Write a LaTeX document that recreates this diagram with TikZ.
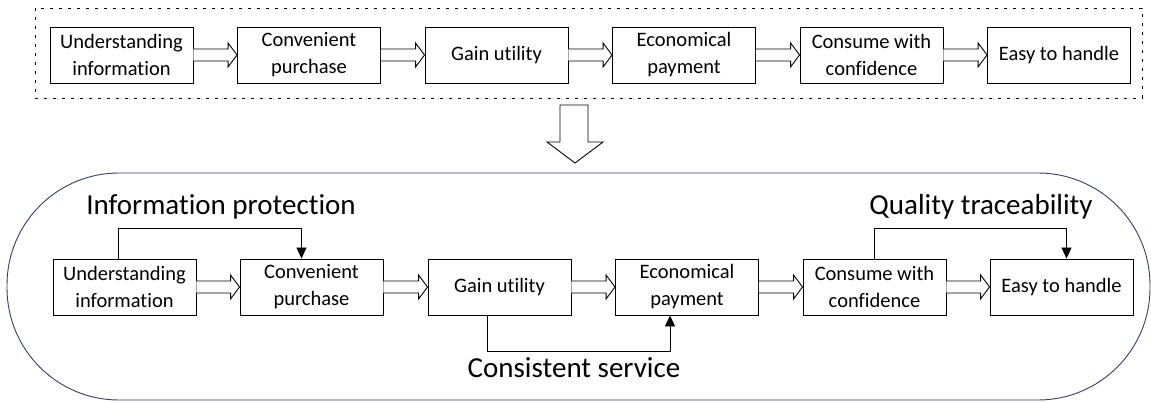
\documentclass[tikz,border=0pt]{standalone}
\usepackage{fontspec}
\setmainfont{Carlito}[Ligatures={NoCommon,NoRequired,NoContextual}]
\usetikzlibrary{calc,arrows.meta}
\definecolor{framecol}{RGB}{52,62,98}
\tikzset{
  stage/.style={draw,line width=0.9pt,minimum width=143pt,minimum height=56pt,
    inner sep=0pt,align=center,font=\fontsize{20.5}{27}\selectfont},
  hollow/.style={draw,line width=0.9pt,fill=white},
  fb/.style={draw,line width=0.9pt,->},
  tag/.style={anchor=base,font=\fontsize{29}{34}\selectfont},
}
% hollow block arrow from one stage to the next
\newcommand\hollowarrow[2]{%
  \draw[hollow] ($(#1.east)+(0,-6)$) -- ($(#2.west)+(-9,-6)$) -- ($(#2.west)+(-9,-12)$)
    -- (#2.west) -- ($(#2.west)+(-9,12)$) -- ($(#2.west)+(-9,6)$) -- ($(#1.east)+(0,6)$);}
\begin{document}
\begin{tikzpicture}[x=1pt,y=-1pt,>={Triangle[length=11pt,width=10pt]}]
\useasboundingbox (0,0) rectangle (1151,403);

% upper chain
\draw[line width=0.8pt,dash pattern=on 3pt off 6pt] (35,8) rectangle (1142,98);
\node[stage] (t1) at (121.5,55) {Understanding\\information};
\node[stage] (t2) at (309,55) {Convenient\\purchase};
\node[stage] (t3) at (496.5,55) {Gain utility};
\node[stage] (t4) at (684,55) {Economical\\payment};
\node[stage] (t5) at (871.5,55) {Consume with\\confidence};
\node[stage] (t6) at (1059,55) {Easy to handle};
\hollowarrow{t1}{t2}
\hollowarrow{t2}{t3}
\hollowarrow{t3}{t4}
\hollowarrow{t4}{t5}
\hollowarrow{t5}{t6}

% big arrow down
\coordinate (down) at (574,105);
\draw[hollow] ($(down)+(-14,0)$) -- ($(down)+(-14,37)$) -- ($(down)+(-27,37)$) -- ($(down)+(1,58)$)
  -- ($(down)+(29,37)$) -- ($(down)+(14,37)$) -- ($(down)+(14,0)$) -- cycle;

% lower chain
\draw[framecol,line width=0.9pt,rounded corners=112pt] (7,173) rectangle (1150,400);
\node[stage] (b1) at (124.5,287) {Understanding\\information};
\node[stage] (b2) at (311.5,287) {Convenient\\purchase};
\node[stage] (b3) at (499.5,287) {Gain utility};
\node[stage] (b4) at (687,287) {Economical\\payment};
\node[stage] (b5) at (874.5,287) {Consume with\\confidence};
\node[stage] (b6) at (1061.5,287) {Easy to handle};
\hollowarrow{b1}{b2}
\hollowarrow{b2}{b3}
\hollowarrow{b3}{b4}
\hollowarrow{b4}{b5}
\hollowarrow{b5}{b6}

\draw[fb] ($(b1.north)+(-6,0)$) -- ++(0,-30) -| ($(b2.north)+(-10,0)$);
\draw[fb] ($(b3.south)+(-12,0)$) -- ++(0,36) -| ($(b4.south)+(-17,0)$);
\draw[fb] (b5.north) -- ++(0,-30) -| ($(b6.north)+(5,0)$);

\node[tag] (protect) at (221,215) {Information protection};
\node[tag] (service) at (574,377) {Consistent service};
\node[tag] (trace) at (981,215) {Quality traceability};
\end{tikzpicture}
\end{document}
